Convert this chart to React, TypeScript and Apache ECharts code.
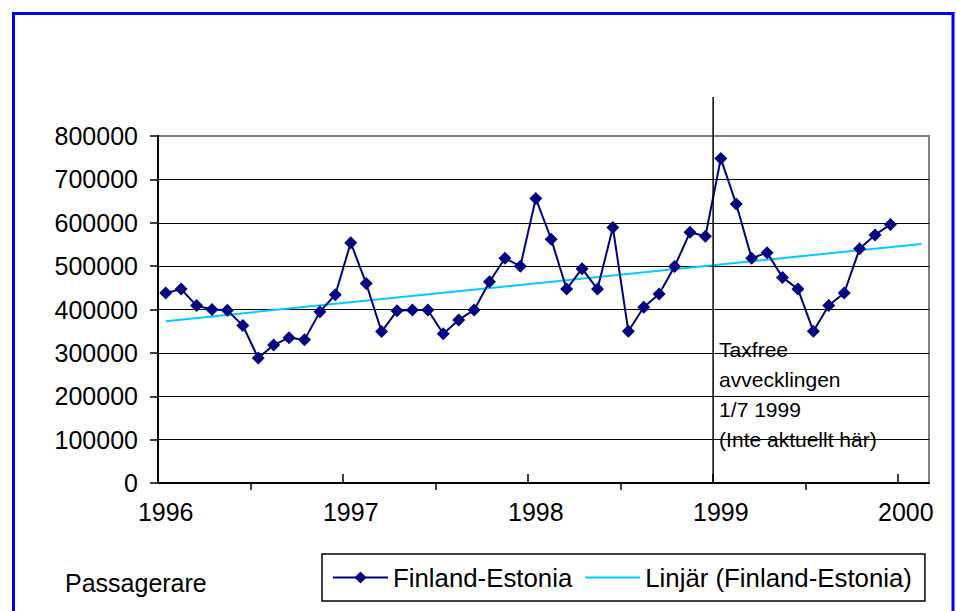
import React, { useEffect, useRef } from "react";
import * as echarts from "echarts";

const yearLabels = ["1996", "1997", "1998", "1999", "2000"];
const fe1996 = [438000, 447000, 409000, 400000, 398000, 363000, 288000, 318000, 335000, 330000, 395000, 434000];
const fe1997 = [554000, 460000, 349000, 397000, 399000, 399000, 344000, 376000, 399000, 464000, 518000, 500000];
const fe1998 = [656000, 562000, 447000, 494000, 447000, 589000, 350000, 405000, 436000, 499000, 578000, 569000];
const fe1999 = [748000, 643000, 518000, 531000, 474000, 447000, 350000, 409000, 438000, 540000, 572000, 596000];
const finlandEstonia = [...fe1996, ...fe1997, ...fe1998, ...fe1999];
const trendForecastPeriods = 2;
const markerMonthIndex = 36;
const markerTopValue = 890000;
const annotationLines = ["Taxfree", "avvecklingen", "1/7 1999", "(Inte aktuellt här)"];
const seriesNames = ["Finland-Estonia", "Linjär (Finland-Estonia)"];
const yAxisTitle = "Passagerare";

function linearFit(values: number[]) {
  const n = values.length;
  let sx = 0, sy = 0, sxx = 0, sxy = 0;
  values.forEach((v, i) => {
    sx += i; sy += v; sxx += i * i; sxy += i * v;
  });
  const b = (n * sxy - sx * sy) / (n * sxx - sx * sx);
  const a = (sy - b * sx) / n;
  return { a, b };
}

const FONT = "'Liberation Sans', Arial, sans-serif";

export default function App() {
  const ref = useRef<HTMLDivElement>(null);
  useEffect(() => {
    const chart = echarts.init(ref.current as HTMLDivElement, null, { renderer: "svg" });
    const n = finlandEstonia.length;
    const xMax = n + trendForecastPeriods;
    const seriesData = finlandEstonia.map((v, i) => [i + 0.5, v]);
    const { a, b } = linearFit(finlandEstonia);
    const lastIdx = n - 1 + trendForecastPeriods;
    const trendData = [
      [0.5, a],
      [lastIdx + 0.5, a + b * lastIdx],
    ];
    const yearTicks = yearLabels.map((_, i) => i * 12);
    const halfYearTicks = yearLabels.slice(0, -1).map((_, i) => i * 12 + 6);
    const labelPos = yearLabels.map((_, i) => i * 12 + 0.5);

    chart.setOption({
      animation: false,
      textStyle: { fontFamily: FONT },
      grid: {
        left: 158,
        right: 27,
        top: 136,
        bottom: 128,
        show: true,
        borderColor: "#808080",
        borderWidth: 2,
        backgroundColor: "transparent",
      },
      xAxis: [
        {
          type: "value",
          min: 0,
          max: xMax,
          position: "bottom",
          axisLine: { show: true, onZero: false, lineStyle: { color: "#000", width: 2 } },
          axisTick: {
            show: true,
            inside: true,
            length: 9,
            customValues: yearTicks,
            lineStyle: { color: "#000", width: 1.5 },
          },
          axisLabel: {
            show: true,
            customValues: labelPos,
            formatter: (v: number) => yearLabels[Math.floor(v / 12)] || "",
            color: "#000",
            fontSize: 25,
            fontFamily: FONT,
            margin: 16,
          },
          splitLine: { show: false },
        },
        {
          type: "value",
          min: 0,
          max: xMax,
          position: "bottom",
          axisLine: { show: false },
          axisTick: {
            show: true,
            inside: false,
            length: 7,
            customValues: halfYearTicks,
            lineStyle: { color: "#000", width: 1.5 },
          },
          axisLabel: { show: false },
          splitLine: { show: false },
        },
      ],
      yAxis: {
        type: "value",
        min: 0,
        max: 800000,
        interval: 100000,
        axisLine: { show: true, lineStyle: { color: "#000", width: 2 } },
        axisTick: { show: true, length: 8, lineStyle: { color: "#000", width: 1.5 } },
        axisLabel: {
          color: "#000",
          fontSize: 25,
          fontFamily: FONT,
          margin: 20,
          formatter: (v: number) => String(v),
        },
        splitLine: {
          show: true,
          showMinLine: false,
          showMaxLine: false,
          lineStyle: { color: "#000", width: 1 },
        },
      },
      legend: {
        left: 322,
        top: 554,
        orient: "horizontal",
        padding: [10, 13, 10, 10],
        itemGap: 12,
        itemWidth: 55,
        itemHeight: 15,
        borderColor: "#000",
        borderWidth: 1.5,
        textStyle: { fontSize: 25.8, color: "#000", fontFamily: FONT, lineHeight: 27 },
        data: [
          { name: seriesNames[0] },
          { name: seriesNames[1], itemStyle: { opacity: 0 } },
        ],
      },
      series: [
        {
          name: seriesNames[0],
          type: "line",
          xAxisIndex: 0,
          data: seriesData,
          symbol: "diamond",
          symbolSize: 13,
          lineStyle: { color: "#000080", width: 2 },
          itemStyle: { color: "#000080" },
          z: 3,
        },
        {
          name: seriesNames[1],
          type: "line",
          xAxisIndex: 0,
          data: trendData,
          symbol: "none",
          showSymbol: false,
          lineStyle: { color: "#00CCFF", width: 2 },
          itemStyle: { color: "#00CCFF" },
          z: 2,
        },
      ],
    });

    const vx = chart.convertToPixel({ xAxisIndex: 0 }, markerMonthIndex) as number;
    const vTop = chart.convertToPixel({ yAxisIndex: 0 }, markerTopValue) as number;
    const vBottom = chart.convertToPixel({ yAxisIndex: 0 }, 0) as number;

    chart.setOption({
      graphic: [
        {
          type: "rect",
          shape: { x: 13.5, y: 13.5, width: 939.5, height: 640 },
          style: { fill: "none", stroke: "#0000FF", lineWidth: 3 },
          z: 200,
        },
        {
          type: "line",
          shape: { x1: vx, y1: vTop, x2: vx, y2: vBottom },
          style: { stroke: "#000", lineWidth: 1.5 },
          z: 100,
        },
        {
          type: "text",
          x: vx + 6,
          y: 334,
          style: {
            text: annotationLines.join("\n"),
            fontSize: 21,
            lineHeight: 30,
            fontFamily: FONT,
            fill: "#000",
            verticalAlign: "top",
            align: "left",
          },
          z: 100,
        },
        {
          type: "text",
          x: 65,
          y: 583,
          style: {
            text: yAxisTitle,
            fontSize: 25,
            fontFamily: FONT,
            fill: "#000",
            verticalAlign: "middle",
            align: "left",
          },
          z: 100,
        },
      ],
    });

    return () => chart.dispose();
  }, []);

  return (
    <div
      ref={ref}
      style={{ position: "fixed", left: 0, top: 0, width: 956, height: 611, background: "#fff" }}
    />
  );
}
